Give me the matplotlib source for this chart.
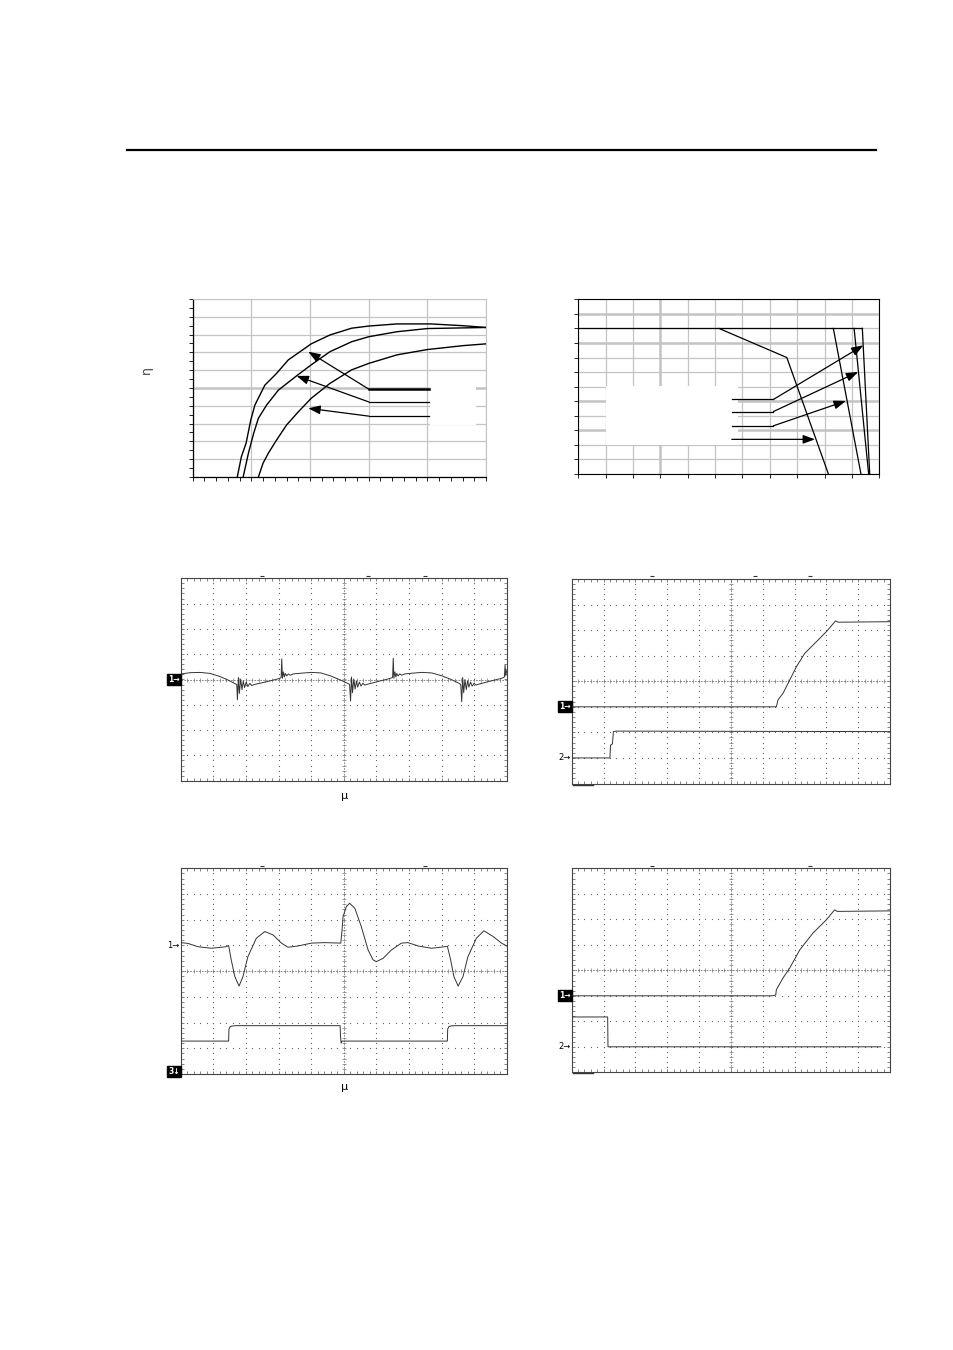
import numpy as np
import matplotlib.pyplot as plt
from matplotlib.patches import Rectangle

W, H = 954, 1350

# efficiency curves (top left), x in load units, y in %
EFF_X_A = [0.76, 0.83, 0.91, 0.99, 1.06, 1.23, 1.43, 1.63, 1.83, 2.02, 2.34, 2.71, 3.00, 3.48, 4.06, 4.61, 5.00]
EFF_Y_A = [50, 55.7, 59.5, 66.0, 70.2, 75.8, 79.1, 82.9, 85.2, 87.4, 89.9, 91.8, 92.4, 93.0, 93.0, 92.5, 92.0]
EFF_X_B = [0.86, 0.95, 1.04, 1.12, 1.26, 1.46, 1.77, 2.02, 2.34, 2.71, 3.00, 3.48, 4.00, 5.00]
EFF_Y_B = [50, 56.7, 62.3, 66.5, 70.2, 74.4, 78.4, 81.5, 85.2, 88.0, 89.4, 90.8, 91.7, 92.0]
EFF_X_C = [1.12, 1.20, 1.29, 1.43, 1.60, 1.80, 2.02, 2.34, 2.71, 3.00, 3.48, 4.00, 4.61, 5.00]
EFF_Y_C = [50, 53.9, 56.7, 60.4, 64.6, 68.3, 72.1, 76.3, 80.1, 81.9, 84.3, 85.8, 86.9, 87.4]
EFF_STUB_Y = [74.7, 71.1, 67.1]
EFF_TIP_X = [1.97, 1.77, 1.97]
EFF_TIP_Y = [85.2, 78.4, 69.3]

# derating curves (top right)
DER_TOP_X = [0, 103.8]
DER_TOP_Y = [100, 100]
DER_X_A = [51.4, 76.2, 91.4]
DER_Y_A = [100, 80, 0]
DER_X_B = [93.2, 103.3]
DER_X_C = [100.8, 106.1]
DER_X_D = [103.8, 106.5]
DER_Y_STEEP = [100, 0]
DER_STUB_Y = [51.2, 42.9, 33.1, 23.8]
DER_TIP_X = [104.2, 102.3, 97.8, 86.5]
DER_TIP_Y = [88.4, 70.1, 50.2, 23.8]

# scope 1: output ripple (divisions)
RIP_X = [0.00, 0.30, 0.60, 0.90, 1.20, 1.45, 1.66, 1.72,
         1.74, 1.77, 1.80, 1.84, 1.88, 1.92, 1.96, 2.01, 2.06, 2.12, 2.18, 2.25,
         2.60, 3.00, 3.08,
         3.10, 3.12, 3.15, 3.18, 3.21, 3.25, 3.30, 3.36, 3.45,
         3.70, 4.00, 4.30, 4.60, 4.90, 5.10, 5.18,
         5.21, 5.24, 5.27, 5.31, 5.35, 5.39, 5.43, 5.48, 5.53, 5.59, 5.65, 5.72,
         6.05, 6.42, 6.50,
         6.52, 6.54, 6.57, 6.60, 6.63, 6.67, 6.72, 6.78, 6.87,
         7.10, 7.40, 7.70, 8.00, 8.30, 8.52, 8.59,
         8.62, 8.65, 8.68, 8.72, 8.76, 8.80, 8.84, 8.89, 8.94, 9.00, 9.06, 9.13,
         9.45, 9.85, 9.93,
         9.95, 9.97, 10.0]
RIP_Y = [0.22, 0.27, 0.28, 0.24, 0.12, -0.02, -0.16, -0.20,
         -0.80, 0.08, -0.55, 0.02, -0.40, -0.06, -0.32, -0.10, -0.28, -0.15, -0.24, -0.20,
         -0.10, 0.03, 0.07,
         0.82, 0.05, 0.30, 0.10, 0.24, 0.14, 0.22, 0.17, 0.22,
         0.25, 0.28, 0.26, 0.14, -0.02, -0.14, -0.19,
         -0.85, 0.10, -0.52, 0.02, -0.38, -0.06, -0.30, -0.10, -0.26, -0.15, -0.22, -0.19,
         -0.08, 0.04, 0.08,
         0.84, 0.05, 0.30, 0.10, 0.24, 0.14, 0.22, 0.17, 0.22,
         0.25, 0.28, 0.26, 0.15, 0.00, -0.14, -0.19,
         -0.88, 0.08, -0.52, 0.00, -0.40, -0.06, -0.30, -0.10, -0.26, -0.15, -0.22, -0.19,
         -0.08, 0.05, 0.10,
         0.57, 0.15, 0.35]

# scope 2: turn-on
ON_X1 = [0, 6.43, 6.48, 6.64, 6.85, 7.06, 7.32, 7.69, 8.00, 8.29, 8.37, 10.0]
ON_Y1 = [-1.0, -1.0, -0.73, -0.47, 0.05, 0.57, 1.09, 1.55, 1.94, 2.36, 2.31, 2.33]
ON_X2 = [0, 1.20, 1.22, 1.28, 1.31, 1.40, 10.0]
ON_Y2 = [-3.0, -3.0, -2.5, -2.45, -1.97, -1.95, -1.97]

# scope 3: load transient
TR_X1 = [0, 0.22, 0.53, 0.94, 1.40, 1.47, 1.55, 1.66, 1.79, 1.91, 2.06, 2.32, 2.58, 2.83, 3.09,
         3.29, 3.60, 4.01, 4.42, 4.91, 4.95, 4.98, 5.08, 5.18, 5.34, 5.54, 5.75, 5.90, 6.00,
         6.21, 6.46, 6.77, 6.97, 7.28, 7.69, 8.10, 8.18, 8.28, 8.38, 8.51, 8.66, 8.81, 9.07,
         9.30, 9.58, 9.84, 10.0]
TR_Y1 = [1.11, 1.08, 0.95, 0.89, 0.95, 1.00, 0.44, -0.21, -0.58, -0.21, 0.56, 1.28, 1.54, 1.41, 1.09,
         0.93, 0.98, 1.09, 1.11, 1.09, 1.60, 2.12, 2.51, 2.64, 2.45, 1.73, 0.82, 0.44, 0.37,
         0.50, 0.82, 1.09, 1.11, 0.98, 0.89, 0.95, 0.97, 0.44, -0.21, -0.58, -0.21, 0.56, 1.28,
         1.57, 1.35, 1.09, 0.98]
TR_X3 = [0, 1.47, 1.48, 1.52, 1.60, 1.70, 4.89, 4.90, 4.92, 4.95, 8.18, 8.19, 8.23, 8.30, 8.40, 10.0]
TR_Y3 = [-2.72, -2.72, -2.25, -2.15, -2.13, -2.12, -2.12, -2.50, -2.80, -2.72, -2.72, -2.25, -2.15, -2.13, -2.12, -2.12]

# scope 4: turn-on via enable
EN_X1 = [0, 6.30, 6.41, 6.43, 6.64, 6.85, 7.17, 7.58, 8.00, 8.26, 8.34, 10.0]
EN_Y1 = [-1.0, -1.0, -0.97, -0.76, -0.30, 0.09, 0.81, 1.46, 1.98, 2.37, 2.31, 2.33]
EN_X2 = [0, 1.13, 1.14, 9.71]
EN_Y2 = [-1.83, -1.83, -3.0, -3.0]

GRID = "#c4c4c4"
TRACE = "#333333"


def fig_axes(fig, left, top, right, bottom):
    return fig.add_axes([left / W, 1 - bottom / H, (right - left) / W, (bottom - top) / H])


def arrow(ax, x0, y0, x1, y1):
    ax.annotate("", xy=(x1, y1), xytext=(x0, y0),
                arrowprops=dict(arrowstyle="-|>,head_length=0.6,head_width=0.22",
                                color="black", lw=0.9, mutation_scale=12,
                                shrinkA=0, shrinkB=0))


def scope_frame(ax):
    ax.set_xlim(0, 10)
    ax.set_ylim(-4, 4)
    ax.set_xticks(np.arange(0, 10.01, 0.2))
    ax.set_yticks(np.arange(-4, 4.01, 0.2))
    ax.tick_params(direction="in", length=2, width=0.5, color="#555555",
                   top=True, right=True, labelbottom=False, labelleft=False)
    for sp in ax.spines.values():
        sp.set_linewidth(0.8)
        sp.set_color("#444444")

    dots_y = np.arange(-4, 4.01, 0.2)
    dots_x = np.arange(0, 10.01, 0.2)
    for gx in [1, 2, 3, 4, 6, 7, 8, 9]:
        ax.plot([gx] * len(dots_y), dots_y, ls="none", marker="s", ms=0.8,
                mew=0, color="#666666")
    for gy in [-3, -2, -1, 1, 2, 3]:
        ax.plot(dots_x, [gy] * len(dots_x), ls="none", marker="s", ms=0.8,
                mew=0, color="#666666")

    ax.plot([0, 10], [0, 0], ls=(0, (2, 1.5)), lw=0.6, color="#777777")
    ax.plot([5, 5], [-4, 4], ls=(0, (2, 1.5)), lw=0.6, color="#777777")
    ax.plot(dots_x, [0] * len(dots_x), ls="none", marker="|", ms=3, mew=0.5, color="#777777")
    ax.plot([5] * len(dots_y), dots_y, ls="none", marker="_", ms=3, mew=0.5, color="#777777")


def channel_tag(ax, y, label, boxed):
    if boxed:
        ax.text(-0.03, y, label, ha="right", va="center", fontsize=5.5, color="white",
                fontweight="bold", clip_on=False,
                bbox=dict(boxstyle="square,pad=0.12", fc="black", ec="black"))
    else:
        ax.text(-0.03, y, label, ha="right", va="center", fontsize=6,
                color="black", clip_on=False)


def top_marks(ax, xs):
    ax.plot(xs, [4.1] * len(xs), ls="none", marker="_", ms=2.5, mew=0.8,
            color="#333333", clip_on=False)


def main():
    fig = plt.figure(figsize=(W / 100, H / 100), dpi=100)

    fig.add_artist(plt.Line2D([127 / W, 876 / W], [1 - 150 / H, 1 - 150 / H],
                              color="black", lw=1.6))

    # efficiency
    ax = fig_axes(fig, 192.7, 299, 486, 477)
    ax.set_xlim(0, 5)
    ax.set_ylim(50, 100)
    ax.set_xticks(np.arange(0, 5.01, 1))
    ax.set_xticks(np.arange(0, 5.01, 0.2), minor=True)
    ax.set_yticks(np.arange(50, 100.1, 5))
    ax.set_yticks(np.arange(50, 100.1, 2.5), minor=True)
    ax.tick_params(which="both", direction="out", length=3, width=0.6,
                   labelbottom=False, labelleft=False)
    ax.grid(which="major", color=GRID, lw=0.9)
    ax.set_axisbelow(True)
    ax.axhline(75, color=GRID, lw=1.8, zorder=0.5)
    for side in ["top", "right"]:
        ax.spines[side].set_color(GRID)
    for side in ["left", "bottom"]:
        ax.spines[side].set_linewidth(0.9)
    ax.add_patch(Rectangle((4.05, 64.5), 0.78, 12, fc="white", ec="none", zorder=1))
    ax.plot(EFF_X_A, EFF_Y_A, color="black", lw=1.0, zorder=3)
    ax.plot(EFF_X_B, EFF_Y_B, color="black", lw=1.0, zorder=3)
    ax.plot(EFF_X_C, EFF_Y_C, color="black", lw=1.0, zorder=3)
    for i, (sy, tx, ty) in enumerate(zip(EFF_STUB_Y, EFF_TIP_X, EFF_TIP_Y)):
        ax.plot([3.0, 4.03], [sy, sy], color="black", lw=1.8 if i == 0 else 0.9, zorder=3)
        arrow(ax, 3.0, sy, tx, ty)
    fig.text(146 / W, 1 - 370 / H, "η", rotation=90, ha="center", va="center",
             fontsize=9, color="#444444")

    # derating
    ax = fig_axes(fig, 578.3, 299.3, 879.3, 474)
    ax.set_xlim(0, 110)
    ax.set_ylim(0, 120)
    ax.set_xticks(np.arange(0, 110.1, 10))
    ax.set_yticks(np.arange(0, 120.1, 10))
    ax.tick_params(direction="out", length=3, width=0.6,
                   labelbottom=False, labelleft=False)
    ax.grid(color=GRID, lw=0.9)
    ax.set_axisbelow(True)
    for gy in [30, 50, 90, 110]:
        ax.axhline(gy, color=GRID, lw=1.8, zorder=0.5)
    ax.axvline(30, color=GRID, lw=1.8, zorder=0.5)
    for sp in ax.spines.values():
        sp.set_linewidth(0.8)
    ax.add_patch(Rectangle((10, 20), 48.2, 40.3, fc="white", ec="none", zorder=1))
    ax.plot(DER_TOP_X, DER_TOP_Y, color="black", lw=0.9, zorder=3)
    ax.plot(DER_X_A, DER_Y_A, color="black", lw=0.9, zorder=3)
    ax.plot(DER_X_B, DER_Y_STEEP, color="black", lw=0.9, zorder=3)
    ax.plot(DER_X_C, DER_Y_STEEP, color="black", lw=0.9, zorder=3)
    ax.plot(DER_X_D, DER_Y_STEEP, color="black", lw=0.9, zorder=3)
    for i, (sy, tx, ty) in enumerate(zip(DER_STUB_Y, DER_TIP_X, DER_TIP_Y)):
        if i < 3:
            ax.plot([56.1, 71.3], [sy, sy], color="black", lw=0.9, zorder=3)
            arrow(ax, 71.3, sy, tx, ty)
        else:
            arrow(ax, 56.1, sy, tx, ty)

    # scope: ripple
    ax = fig_axes(fig, 180.7, 578.3, 506.7, 780.7)
    scope_frame(ax)
    ax.plot(RIP_X, RIP_Y, color=TRACE, lw=0.7, zorder=4)
    channel_tag(ax, 0, "1→", True)
    top_marks(ax, [2.50, 5.75, 7.49])
    fig.text(345 / W, 1 - 796 / H, "μ", ha="center", va="center", fontsize=8)

    # scope: turn-on
    ax = fig_axes(fig, 571.7, 579, 890, 783.5)
    scope_frame(ax)
    ax.plot(ON_X1, ON_Y1, color=TRACE, lw=0.7, zorder=4)
    ax.plot(ON_X2, ON_Y2, color=TRACE, lw=0.7, zorder=4)
    channel_tag(ax, -1, "1→", True)
    channel_tag(ax, -3, "2→", False)
    top_marks(ax, [2.51, 5.76, 7.48])
    ax.plot([0.05, 0.68], [-4.04, -4.04], color="#333333", lw=1.0, clip_on=False)

    # scope: load transient
    ax = fig_axes(fig, 180.7, 868.3, 506.7, 1074)
    scope_frame(ax)
    ax.plot(TR_X1, TR_Y1, color=TRACE, lw=0.7, zorder=4)
    ax.plot(TR_X3, TR_Y3, color=TRACE, lw=0.7, zorder=4)
    channel_tag(ax, 1, "1→", False)
    channel_tag(ax, -3.9, "3↓", True)
    top_marks(ax, [2.50, 7.49])
    fig.text(345 / W, 1 - 1087 / H, "μ", ha="center", va="center", fontsize=8)

    # scope: enable turn-on
    ax = fig_axes(fig, 571.7, 868.3, 890, 1072.3)
    scope_frame(ax)
    ax.plot(EN_X1, EN_Y1, color=TRACE, lw=0.7, zorder=4)
    ax.plot(EN_X2, EN_Y2, color=TRACE, lw=0.7, zorder=4)
    channel_tag(ax, -1, "1→", True)
    channel_tag(ax, -3, "2→", False)
    top_marks(ax, [2.51, 7.48])
    ax.plot([0.05, 0.68], [-4.04, -4.04], color="#333333", lw=1.0, clip_on=False)

    fig.savefig("out.png", dpi=100)
    plt.close(fig)


if __name__ == "__main__":
    main()
